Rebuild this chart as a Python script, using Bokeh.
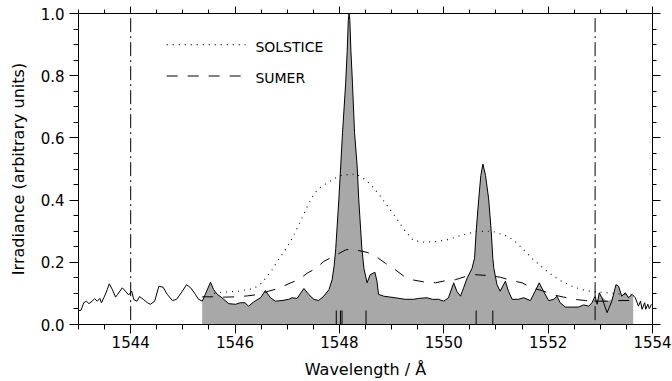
from bokeh.plotting import figure
from bokeh.models import Range1d, LinearAxis, SingleIntervalTicker, PrintfTickFormatter, CustomJSTickFormatter
from bokeh.core.properties import value
from bokeh.embed import file_html
from bokeh.resources import INLINE

# ---- observed spectrum (solid black line) ----
spec_wl = [1543.00, 1543.05, 1543.10, 1543.15, 1543.20, 1543.26, 1543.31, 1543.36, 1543.41, 1543.44,
           1543.50, 1543.55, 1543.59, 1543.65, 1543.71, 1543.75, 1543.84, 1543.90, 1543.96, 1544.02,
           1544.06, 1544.12, 1544.17, 1544.24, 1544.32, 1544.38, 1544.46, 1544.54, 1544.62, 1544.70,
           1544.80, 1544.88, 1544.99, 1545.07, 1545.15, 1545.24, 1545.30, 1545.37, 1545.43, 1545.53,
           1545.59, 1545.66, 1545.75, 1545.88, 1546.01, 1546.10, 1546.19, 1546.26, 1546.36, 1546.49,
           1546.58, 1546.68, 1546.77, 1546.90, 1547.03, 1547.09, 1547.19, 1547.32, 1547.41, 1547.51,
           1547.60, 1547.70, 1547.80, 1547.86, 1547.90, 1547.93, 1547.99, 1548.06, 1548.12, 1548.15,
           1548.17, 1548.185, 1548.20, 1548.22, 1548.25, 1548.29, 1548.34, 1548.37, 1548.43, 1548.47,
           1548.53, 1548.59, 1548.68, 1548.72, 1548.75, 1548.85, 1549.07, 1549.26, 1549.42, 1549.52,
           1549.68, 1549.78, 1549.90, 1550.00, 1550.09, 1550.19, 1550.25, 1550.32, 1550.38, 1550.45,
           1550.54, 1550.59, 1550.62, 1550.67, 1550.71, 1550.75, 1550.80, 1550.86, 1550.91, 1550.94,
           1550.96, 1551.02, 1551.08, 1551.18, 1551.24, 1551.31, 1551.43, 1551.53, 1551.66, 1551.75,
           1551.83, 1551.91, 1552.01, 1552.11, 1552.17, 1552.23, 1552.33, 1552.46, 1552.58, 1552.68,
           1552.78, 1552.84, 1552.90, 1552.94, 1552.98, 1553.03, 1553.13, 1553.22, 1553.30, 1553.35,
           1553.41, 1553.48, 1553.54, 1553.61, 1553.67, 1553.73, 1553.77, 1553.80, 1553.85, 1553.87,
           1553.91, 1553.94, 1553.98]
spec_val = [0.044, 0.046, 0.070, 0.075, 0.067, 0.075, 0.083, 0.075, 0.084, 0.070,
            0.091, 0.112, 0.131, 0.112, 0.088, 0.097, 0.118, 0.107, 0.095, 0.107,
            0.080, 0.075, 0.090, 0.081, 0.070, 0.065, 0.075, 0.123, 0.120, 0.097,
            0.077, 0.081, 0.107, 0.128, 0.118, 0.097, 0.081, 0.075, 0.097, 0.136,
            0.112, 0.097, 0.086, 0.067, 0.065, 0.070, 0.070, 0.059, 0.073, 0.086,
            0.109, 0.086, 0.075, 0.077, 0.081, 0.086, 0.084, 0.116, 0.097, 0.081,
            0.077, 0.091, 0.112, 0.144, 0.190, 0.245, 0.404, 0.617, 0.776, 0.882,
            0.978, 1.000, 0.978, 0.882, 0.776, 0.617, 0.510, 0.404, 0.245, 0.180,
            0.134, 0.160, 0.168, 0.139, 0.097, 0.091, 0.086, 0.081, 0.081, 0.084,
            0.086, 0.081, 0.081, 0.075, 0.086, 0.134, 0.107, 0.091, 0.118, 0.150,
            0.180, 0.213, 0.298, 0.404, 0.479, 0.516, 0.479, 0.404, 0.298, 0.213,
            0.180, 0.128, 0.107, 0.139, 0.107, 0.081, 0.081, 0.086, 0.077, 0.107,
            0.134, 0.107, 0.077, 0.081, 0.091, 0.070, 0.056, 0.056, 0.056, 0.063,
            0.059, 0.070, 0.091, 0.065, 0.102, 0.086, 0.038, 0.075, 0.128, 0.123,
            0.091, 0.102, 0.086, 0.097, 0.086, 0.059, 0.075, 0.049, 0.070, 0.049,
            0.065, 0.051, 0.065]

# ---- filled (grey) spectrum ----
fill_wl = [1545.37, 1545.43, 1545.53, 1545.59, 1545.66, 1545.75, 1545.88, 1546.01, 1546.10, 1546.19,
           1546.26, 1546.36, 1546.49, 1546.58, 1546.68, 1546.77, 1546.90, 1547.03, 1547.09, 1547.19,
           1547.32, 1547.41, 1547.51, 1547.60, 1547.70, 1547.80, 1547.86, 1547.90, 1547.93, 1547.99,
           1548.06, 1548.12, 1548.15, 1548.17, 1548.185, 1548.20, 1548.22, 1548.25, 1548.29, 1548.34,
           1548.37, 1548.43, 1548.47, 1548.53, 1548.59, 1548.68, 1548.72, 1548.75, 1548.85, 1549.07,
           1549.26, 1549.42, 1549.52, 1549.68, 1549.78, 1549.90, 1550.00, 1550.09, 1550.19, 1550.25,
           1550.32, 1550.38, 1550.45, 1550.54, 1550.59, 1550.62, 1550.67, 1550.71, 1550.75, 1550.80,
           1550.86, 1550.91, 1550.94, 1550.96, 1551.02, 1551.08, 1551.18, 1551.24, 1551.31, 1551.43,
           1551.53, 1551.66, 1551.75, 1551.83, 1551.91, 1552.01, 1552.11, 1552.17, 1552.23, 1552.33,
           1552.46, 1552.58, 1552.68, 1552.78, 1552.84, 1552.90, 1552.94, 1552.98, 1553.03, 1553.13,
           1553.22, 1553.30, 1553.35, 1553.41, 1553.48, 1553.54, 1553.63]
fill_val = [0.075, 0.097, 0.136, 0.112, 0.097, 0.086, 0.067, 0.065, 0.070, 0.070,
            0.059, 0.073, 0.086, 0.109, 0.086, 0.075, 0.077, 0.081, 0.086, 0.084,
            0.116, 0.097, 0.081, 0.077, 0.091, 0.112, 0.144, 0.190, 0.245, 0.404,
            0.617, 0.776, 0.882, 0.978, 1.000, 0.978, 0.882, 0.776, 0.617, 0.510,
            0.404, 0.245, 0.180, 0.134, 0.160, 0.168, 0.139, 0.097, 0.091, 0.086,
            0.081, 0.081, 0.084, 0.086, 0.081, 0.081, 0.075, 0.086, 0.134, 0.107,
            0.091, 0.118, 0.150, 0.180, 0.213, 0.298, 0.404, 0.479, 0.516, 0.479,
            0.404, 0.298, 0.213, 0.180, 0.128, 0.107, 0.139, 0.107, 0.081, 0.081,
            0.086, 0.077, 0.107, 0.134, 0.107, 0.077, 0.081, 0.091, 0.070, 0.056,
            0.056, 0.056, 0.063, 0.059, 0.070, 0.091, 0.075, 0.102, 0.090, 0.075,
            0.080, 0.128, 0.123, 0.095, 0.102, 0.090, 0.095]

# ---- SOLSTICE (dotted) ----
sol_wl = [1545.60, 1545.75, 1546.07, 1546.36, 1546.52, 1546.61, 1546.71, 1546.81, 1546.89, 1547.00,
          1547.12, 1547.25, 1547.38, 1547.51, 1547.64, 1547.89, 1548.02, 1548.31, 1548.43, 1548.59,
          1548.75, 1548.91, 1549.10, 1549.26, 1549.42, 1549.60, 1549.81, 1550.06, 1550.32, 1550.48,
          1550.61, 1550.77, 1550.93, 1551.05, 1551.18, 1551.31, 1551.43, 1551.50, 1551.72, 1551.98,
          1552.20, 1552.46, 1552.71, 1552.90, 1553.16, 1553.41, 1553.61]
sol_val = [0.100, 0.104, 0.107, 0.116, 0.134, 0.155, 0.176, 0.203, 0.222, 0.250,
           0.285, 0.330, 0.378, 0.420, 0.442, 0.468, 0.479, 0.484, 0.474, 0.452,
           0.420, 0.383, 0.340, 0.300, 0.270, 0.265, 0.266, 0.272, 0.286, 0.293,
           0.298, 0.300, 0.300, 0.293, 0.286, 0.275, 0.258, 0.245, 0.208, 0.171,
           0.144, 0.123, 0.109, 0.105, 0.102, 0.097, 0.095]

# ---- SUMER (dashed) ----
sum_wl = [1545.37, 1545.62, 1545.81, 1546.00, 1546.24, 1546.46, 1546.64, 1546.83, 1547.07, 1547.23,
          1547.39, 1547.55, 1547.70, 1547.89, 1548.12, 1548.22, 1548.31, 1548.53, 1548.69, 1548.88,
          1549.04, 1549.23, 1549.42, 1549.65, 1549.84, 1550.06, 1550.22, 1550.45, 1550.61, 1550.80,
          1550.96, 1551.08, 1551.31, 1551.50, 1551.69, 1551.88, 1552.11, 1552.30, 1552.50, 1552.71,
          1552.94, 1553.13, 1553.35, 1553.60]
sum_val = [0.089, 0.089, 0.088, 0.089, 0.092, 0.097, 0.107, 0.116, 0.134, 0.145,
           0.166, 0.180, 0.203, 0.219, 0.240, 0.242, 0.240, 0.232, 0.220, 0.197,
           0.180, 0.156, 0.143, 0.136, 0.134, 0.142, 0.144, 0.156, 0.160, 0.158,
           0.155, 0.152, 0.141, 0.134, 0.118, 0.109, 0.095, 0.088, 0.081, 0.077,
           0.075, 0.075, 0.077, 0.077]

# ---- line position markers and window limits ----
line_marks = [1547.94, 1548.02, 1548.05, 1548.51, 1550.62, 1550.94]
window_limits = [1544.0, 1552.9]

legend_names = ["SOLSTICE", "SUMER"]

FONT = "DejaVu Sans"

p = figure(width=672, height=381, output_backend="svg", toolbar_location=None,
           x_range=Range1d(1543, 1554), y_range=Range1d(0, 1.0),
           min_border_left=78, min_border_right=20, min_border_top=13, min_border_bottom=54,
           background_fill_color="white", border_fill_color="white")
p.xgrid.visible = False
p.ygrid.visible = False
p.outline_line_color = "black"
p.outline_line_width = 1

xa = p.xaxis[0]
xa.ticker = SingleIntervalTicker(interval=2, num_minor_ticks=4)
xa.axis_label = "Wavelength / Å"
ya = p.yaxis[0]
ya.ticker = SingleIntervalTicker(interval=0.2, num_minor_ticks=4)
ya.formatter = PrintfTickFormatter(format="%.1f")
ya.axis_label = "Irradiance (arbitrary units)"

for ax in (xa, ya):
    ax.major_tick_out = 9
    ax.major_tick_in = 0
    ax.minor_tick_out = 5
    ax.minor_tick_in = 0
    ax.axis_line_color = "black"
    ax.major_tick_line_color = "black"
    ax.minor_tick_line_color = "black"
    ax.major_label_text_font = FONT
    ax.major_label_text_font_size = "15px"
    ax.major_label_text_color = "black"
    ax.axis_label_text_font = FONT
    ax.axis_label_text_font_size = "16px"
    ax.axis_label_text_font_style = "normal"
    ax.axis_label_text_color = "black"
xa.major_label_standoff = 2
xa.axis_label_standoff = 9
ya.major_label_standoff = 5
ya.axis_label_standoff = 10

top = LinearAxis(ticker=SingleIntervalTicker(interval=2, num_minor_ticks=4))
right = LinearAxis(ticker=SingleIntervalTicker(interval=0.2, num_minor_ticks=4))
for ax, mt, mn in ((top, 7, 4), (right, 8, 4)):
    ax.major_tick_out = mt
    ax.major_tick_in = 0
    ax.minor_tick_out = mn
    ax.minor_tick_in = 0
    ax.formatter = CustomJSTickFormatter(code="return ''")
    ax.major_label_standoff = 0
    ax.axis_line_color = "black"
p.add_layout(top, "above")
p.add_layout(right, "right")

# filled spectrum
p.varea(x=fill_wl, y1=0, y2=fill_val, fill_color="#a8a8a8")
# observed spectrum
p.line(spec_wl, spec_val, line_color="black", line_width=1)
# SOLSTICE and SUMER
p.line(sol_wl, sol_val, line_color="black", line_width=1.1, line_dash="1 5")
p.line(sum_wl, sum_val, line_color="black", line_width=1, line_dash="11 10")

# line markers
p.segment(x0=line_marks, y0=[0] * len(line_marks), x1=line_marks, y1=[0.045] * len(line_marks),
          line_color="black", line_width=1)
# window limits (dash-dot)
p.segment(x0=window_limits, y0=[0.985] * 2, x1=window_limits, y1=[0] * 2,
          line_color="black", line_width=1, line_dash="14 4 2 4")

# legend
p.line([1544.69, 1546.2], [0.900, 0.900], line_color="black", line_width=1.1, line_dash="1 5")
p.line([1544.69, 1546.2], [0.799, 0.799], line_color="black", line_width=1, line_dash="11 10")
p.text(x=[1546.39, 1546.39], y=[0.893, 0.791], text=legend_names,
       text_font=value(FONT), text_font_size="14px", text_baseline="middle", text_color="black")

open("out.html", "w").write(file_html(p, INLINE))
